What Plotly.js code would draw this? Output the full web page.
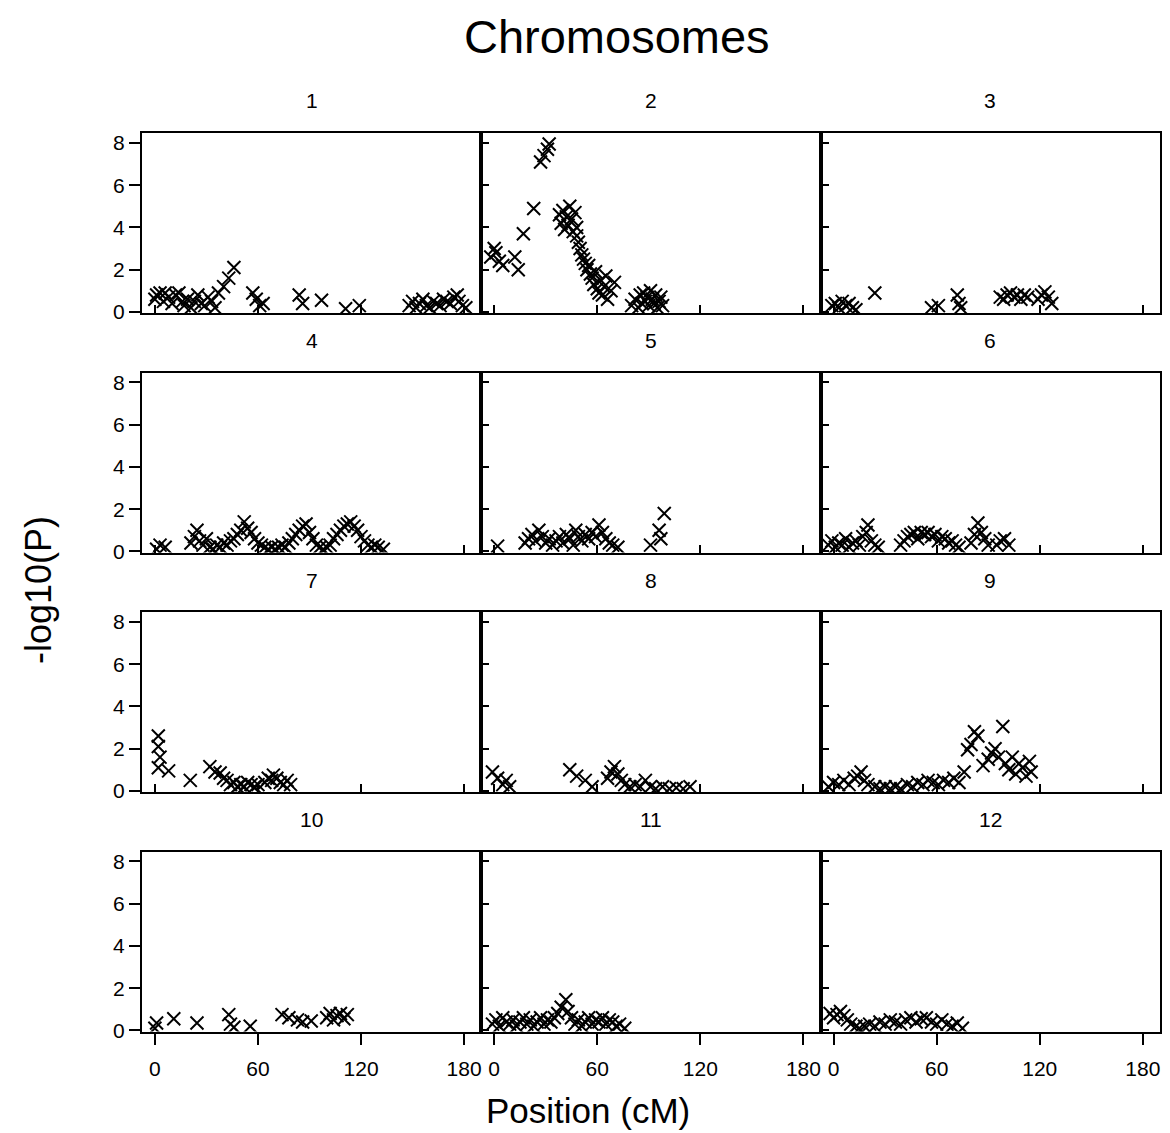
<!DOCTYPE html>
<html>
<head>
<meta charset="utf-8">
<script src="https://cdn.plot.ly/plotly-3.0.1.min.js"></script>
<style>html,body{margin:0;padding:0;background:#fff;}#chart{width:1170px;height:1133px;}</style>
</head>
<body>
<div id="chart"></div>
<script>
// ---------- data (position in cM, -log10(P)) ----------
const chromosomes = ["1","2","3","4","5","6","7","8","9","10","11","12"];
const xTickVals = [0, 60, 120, 180];
const yTickVals = [0, 2, 4, 6, 8];

const chr1_pos  = [0,1,3,5,6,8,10,12,14,16,17,19,21,23,25,27,29,31,33,35,37,40,43,46,57,59,61,63,84,86,97,111,119,148,150,152,154,156,158,160,162,164,166,168,170,172,174,176,177,179,181];
const chr1_logp = [0.6,0.8,0.9,0.5,0.9,0.7,0.4,0.8,0.9,0.5,0.3,0.6,0.2,0.5,0.8,0.4,0.3,0.7,0.5,0.2,0.9,1.2,1.6,2.1,0.9,0.6,0.3,0.4,0.8,0.4,0.55,0.15,0.3,0.3,0.5,0.2,0.4,0.6,0.3,0.2,0.5,0.4,0.3,0.6,0.5,0.4,0.7,0.8,0.5,0.3,0.2];

const chr2_pos  = [-2,0,1,3,5,12,14,17,23,27,29,31,32,38,39,40,41,42,43,44,45,46,47,48,48,49,50,51,52,53,54,55,56,57,58,59,60,61,62,63,64,65,66,68,70,80,82,84,85,86,87,88,89,90,91,92,93,94,95,96,97,98];
const chr2_logp = [2.6,3.0,2.8,2.4,2.2,2.6,2.0,3.7,4.9,7.1,7.4,7.7,7.95,4.6,4.2,4.8,3.9,4.5,4.1,5.0,4.4,3.8,4.7,3.6,4.0,3.3,3.0,2.7,2.5,2.3,2.0,2.2,1.8,1.6,1.3,1.9,1.1,0.9,1.5,0.8,1.2,1.7,0.6,1.0,1.4,0.3,0.6,0.2,0.8,0.4,0.9,0.5,0.7,0.3,1.0,0.6,0.4,0.8,0.2,0.5,0.7,0.3];

const chr3_pos  = [-1,1,3,5,7,9,11,13,24,57,61,72,73,74,97,99,101,103,105,107,109,111,113,119,121,123,125,127];
const chr3_logp = [0.3,0.4,0.2,0.5,0.3,0.4,0.2,0.1,0.9,0.2,0.3,0.8,0.4,0.2,0.7,0.6,0.8,0.9,0.7,0.8,0.6,0.8,0.7,0.6,0.8,0.95,0.7,0.4];

const chr4_pos  = [1,3,6,21,23,24.5,26,28,30,32,34,36,38,40,42,44,46,48,50,52,54,56,58,60,62,64,66,68,70,72,74,76,78,80,82,84,86,88,90,92,94,96,98,100,102,104,106,108,110,112,114,116,118,120,122,124,126,128,130,133];
const chr4_logp = [0.1,0.3,0.2,0.4,0.7,1.0,0.5,0.3,0.6,0.2,0.1,0.3,0.2,0.4,0.3,0.5,0.6,0.8,1.0,1.4,1.1,0.9,0.6,0.4,0.3,0.2,0.1,0.2,0.1,0.2,0.3,0.2,0.4,0.6,0.8,1.0,1.2,1.3,0.9,0.6,0.3,0.2,0.1,0.2,0.3,0.6,0.8,1.0,1.2,1.3,1.4,1.2,1.0,0.7,0.5,0.3,0.2,0.3,0.2,0.1];

const chr5_pos  = [2,18,20,22,24,26,28,30,32,34,36,38,40,42,44,46,47.5,49,51,53,55,57,59,61,63,65,67,69,72,91,96,97,99];
const chr5_logp = [0.25,0.4,0.6,0.8,0.5,1.0,0.7,0.4,0.6,0.3,0.5,0.7,0.4,0.8,0.6,0.3,1.0,0.7,0.5,0.8,0.6,0.9,0.7,1.25,0.9,0.6,0.4,0.3,0.2,0.3,1.0,0.6,1.8];

const chr6_pos  = [-3,-1,1,3,5,7,9,11,13,15,17,19,20,22,24,26,39,41,43,45,47,49,51,53,55,57,59,61,63,65,67,69,71,73,80,82,84,86,88,90,95,97,99.5,102];
const chr6_logp = [0.3,0.5,0.2,0.4,0.3,0.6,0.2,0.4,0.5,0.3,0.7,0.9,1.25,0.5,0.3,0.2,0.3,0.5,0.7,0.8,0.9,0.6,0.9,0.8,0.9,0.7,0.8,0.5,0.7,0.6,0.4,0.5,0.3,0.2,0.4,0.8,1.35,0.9,0.6,0.3,0.3,0.5,0.6,0.3];

const chr7_pos  = [2,2,3,2,8,20.6,32,35,38,40,42,44,46,48,50,52,54,56,58,60,64,66,68,69,71,73,75,77,79];
const chr7_logp = [2.6,2.1,1.6,1.1,0.95,0.5,1.15,0.9,0.85,0.6,0.5,0.3,0.4,0.2,0.3,0.2,0.4,0.3,0.2,0.3,0.4,0.6,0.5,0.75,0.6,0.4,0.3,0.5,0.3];

const chr8_pos  = [-1,2,5,7,9,44,48,53,57,66,68,70,72,74,76,79,82,85,88,91,94,98,102,106,110,114];
const chr8_logp = [0.9,0.6,0.3,0.5,0.2,1.0,0.7,0.5,0.2,0.6,0.9,1.15,0.8,0.5,0.3,0.2,0.3,0.2,0.5,0.2,0.1,0.2,0.1,0.15,0.1,0.2];

const chr9_pos  = [-3,0,3,6,9,12,14,16,18,20,24,27,30,33,36,39,43,46,49,52,55,58,61,64,67,70,73,76,78,80,82,84,87,90,92,94,96,98.5,100,102,104,106,108,110,112,114,115];
const chr9_logp = [0.2,0.4,0.3,0.5,0.3,0.6,0.7,0.9,0.5,0.3,0.2,0.1,0.2,0.1,0.2,0.1,0.3,0.2,0.4,0.3,0.5,0.4,0.3,0.5,0.4,0.6,0.4,0.9,1.95,2.2,2.8,2.6,1.2,1.5,1.8,2.0,1.6,3.05,1.3,1.0,1.6,0.8,1.3,1.1,0.7,1.4,0.9];

const chr10_pos  = [0,1,11,24.5,43,44,46,55.5,74,78,83,86,91,100,102,104,106,108,110,112];
const chr10_logp = [0.1,0.35,0.55,0.35,0.75,0.3,0.15,0.2,0.75,0.6,0.5,0.4,0.45,0.6,0.8,0.5,0.7,0.8,0.55,0.75];

const chr11_pos  = [-1,1,3,5,7,9,11,13,15,17,19,21,23,25,27,29,31,33,35,37,39,41.7,43,45,47,49,51,53,55,57,59,61,63,65,67,69,71,73,76];
const chr11_logp = [0.3,0.5,0.2,0.6,0.4,0.3,0.5,0.2,0.4,0.6,0.3,0.5,0.2,0.4,0.6,0.3,0.5,0.4,0.6,0.8,1.1,1.45,0.9,0.6,0.3,0.5,0.2,0.4,0.6,0.3,0.5,0.4,0.6,0.3,0.5,0.4,0.2,0.3,0.1];

const chr12_pos  = [-2,0,2,4,6,8,10,13,15,18,21,24,27,30,33,36,39,42,45,48,51,54,57,60,63,66,69,72,75];
const chr12_logp = [0.8,0.6,0.75,0.9,0.7,0.5,0.3,0.2,0.1,0.2,0.3,0.2,0.4,0.3,0.5,0.4,0.3,0.5,0.6,0.4,0.55,0.6,0.4,0.3,0.5,0.3,0.2,0.35,0.1];

const allPos  = [chr1_pos,chr2_pos,chr3_pos,chr4_pos,chr5_pos,chr6_pos,chr7_pos,chr8_pos,chr9_pos,chr10_pos,chr11_pos,chr12_pos];
const allLogp = [chr1_logp,chr2_logp,chr3_logp,chr4_logp,chr5_logp,chr6_logp,chr7_logp,chr8_logp,chr9_logp,chr10_logp,chr11_logp,chr12_logp];

// ---------- layout ----------
const W = 1170, H = 1133;
const colLeft = [142, 481.3, 820.7];
const colW = 339.3;
const rowTop = [133, 372.5, 612, 851.5];
const rowH = 180;
const FONT = "Liberation Sans, Arial, Helvetica, sans-serif";

const traces = [];
const layout = {
  width: W, height: H,
  margin: {l:0, r:0, t:0, b:0},
  paper_bgcolor: "#ffffff",
  plot_bgcolor: "#ffffff",
  showlegend: false,
  font: {family: FONT, color: "#000", size: 20},
  annotations: []
};

for (let i = 0; i < 12; i++) {
  const r = Math.floor(i / 3), c = i % 3;
  const n = i + 1;
  const xk = "xaxis" + (n === 1 ? "" : n);
  const yk = "yaxis" + (n === 1 ? "" : n);
  const xa = "x" + (n === 1 ? "" : n);
  const ya = "y" + (n === 1 ? "" : n);
  traces.push({
    type: "scatter", mode: "markers",
    x: allPos[i], y: allLogp[i],
    xaxis: xa, yaxis: ya,
    marker: {symbol: "x-thin-open", size: 13, color: "#000", line: {color: "#000", width: 2}},
    hoverinfo: "x+y"
  });
  const x0 = colLeft[c] / W, x1 = (colLeft[c] + colW) / W;
  const yTopP = 1 - rowTop[r] / H, yBotP = 1 - (rowTop[r] + rowH) / H;
  layout[xk] = {
    domain: [x0, x1], anchor: ya,
    range: [-7.5, 190],
    tickvals: xTickVals, ticktext: xTickVals.map(String),
    ticks: r === 3 ? "outside" : "inside",
    ticklen: r === 3 ? 11 : 8, tickwidth: 2, tickcolor: "#000",
    showticklabels: r === 3,
    ticklabelstandoff: 6,
    tickfont: {family: FONT, size: 21, color: "#000"},
    showgrid: false, zeroline: false,
    showline: true, mirror: true, linecolor: "#000", linewidth: 2,
    fixedrange: true
  };
  layout[yk] = {
    domain: [yBotP, yTopP], anchor: xa,
    range: [-0.05, 8.47],
    tickvals: yTickVals, ticktext: yTickVals.map(String),
    ticks: c === 0 ? "outside" : "inside",
    ticklen: c === 0 ? 11 : 8, tickwidth: 2, tickcolor: "#000",
    showticklabels: c === 0,
    tickfont: {family: FONT, size: 21, color: "#000"},
    showgrid: false, zeroline: false,
    showline: true, mirror: true, linecolor: "#000", linewidth: 2,
    fixedrange: true
  };
  layout.annotations.push({
    text: chromosomes[i], xref: "paper", yref: "paper",
    x: (colLeft[c] + colW / 2) / W, y: 1 - (rowTop[r] - 32) / H,
    xanchor: "center", yanchor: "middle", showarrow: false,
    font: {family: FONT, size: 21, color: "#000"}
  });
}

layout.annotations.push({
  text: "Chromosomes", xref: "paper", yref: "paper",
  x: 617 / W, y: 1 - 37 / H, xanchor: "center", yanchor: "middle", showarrow: false,
  font: {family: FONT, size: 47, color: "#000"}
});
layout.annotations.push({
  text: "Position (cM)", xref: "paper", yref: "paper",
  x: 588 / W, y: 1 - 1110 / H, xanchor: "center", yanchor: "middle", showarrow: false,
  font: {family: FONT, size: 35, color: "#000"}
});
layout.annotations.push({
  text: "-log10(P)", xref: "paper", yref: "paper", textangle: -90,
  x: 38 / W, y: 1 - 590 / H, xanchor: "center", yanchor: "middle", showarrow: false,
  font: {family: FONT, size: 36, color: "#000"}
});

Plotly.newPlot("chart", traces, layout, {staticPlot: true, displayModeBar: false});
</script>
</body>
</html>
